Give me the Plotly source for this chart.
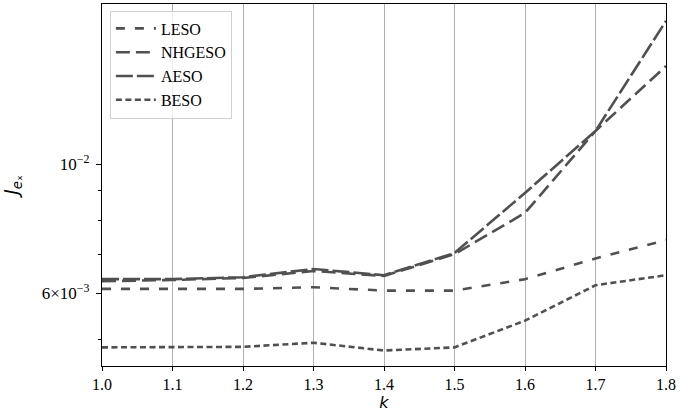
import math
import plotly.graph_objects as go

k = [1.0, 1.1, 1.2, 1.3, 1.4, 1.5, 1.6, 1.7, 1.8]
leso = [0.00610, 0.00610, 0.00610, 0.00614, 0.00606, 0.00606, 0.00634, 0.00688, 0.00740]
nhgeso = [0.00629, 0.00632, 0.00637, 0.00655, 0.00642, 0.00700, 0.00824, 0.01140, 0.01474]
aeso = [0.00634, 0.00634, 0.00639, 0.00660, 0.00644, 0.00703, 0.00892, 0.01140, 0.01762]
beso = [0.00484, 0.00484, 0.00485, 0.00493, 0.00478, 0.00484, 0.00538, 0.00619, 0.00644]

names = ["LESO", "NHGESO", "AESO", "BESO"]
series = [leso, nhgeso, aeso, beso]
dashes = ["9px,10px", "14px,6px", "17px,4px", "6px,3.5px"]

y_major = [0.006, 0.01]
y_major_text = ["6×10<sup>−3</sup>", "10<sup>−2</sup>"]
y_minor = [0.005, 0.007, 0.008, 0.009]
y_grid = [0.01]
x_range = [1.0, 1.8]
y_range = [0.004496, 0.01884]

LINE = "#505050"
SERIF = "Liberation Serif"

fig = go.Figure()
for n, s, d in zip(names, series, dashes):
    fig.add_trace(go.Scatter(x=k, y=s, name=n, mode="lines",
                             line=dict(color=LINE, width=2.6, dash=d)))

for g in y_grid:
    fig.add_shape(type="line", xref="paper", x0=0, x1=1, yref="y",
                  y0=math.log10(g), y1=math.log10(g),
                  line=dict(color="#b0b0b0", width=1.3), layer="below")

fig.update_layout(
    width=700, height=420,
    margin=dict(l=102, r=34, t=4, b=54, autoexpand=False),
    paper_bgcolor="white", plot_bgcolor="white",
    font=dict(family=SERIF, size=16, color="black"),
    showlegend=True,
    legend=dict(x=0.014, y=0.982, xanchor="left", yanchor="top", itemwidth=40,
                bgcolor="rgba(255,255,255,0.8)", bordercolor="#d0d0d0", borderwidth=1,
                font=dict(family=SERIF, size=16)),
)
fig.update_xaxes(range=x_range, dtick=0.1, tick0=1.0, tickformat=".1f", automargin=False,
                 showgrid=True, gridcolor="#b0b0b0", gridwidth=1.3,
                 showline=True, linecolor="black", linewidth=1.2, mirror=True,
                 ticks="outside", ticklen=4, tickcolor="black", zeroline=False,
                 title=dict(text="<i>k</i>", font=dict(family="DejaVu Sans", size=16), standoff=4))
fig.update_yaxes(type="log", range=[math.log10(v) for v in y_range], automargin=False,
                 tickvals=y_major, ticktext=y_major_text, showgrid=False,
                 tickfont=dict(size=17), ticklabelstandoff=3,
                 showline=True, linecolor="black", linewidth=1.2, mirror=True,
                 ticks="outside", ticklen=5, tickcolor="black", zeroline=False,
                 minor=dict(tickvals=y_minor, ticks="outside", ticklen=3, tickcolor="black", showgrid=False),
                 title=dict(text="<i>J</i><sub><i>e</i>ₓ</sub>", font=dict(family="DejaVu Sans", size=19), standoff=18))

fig.write_html("out.html", config={"displayModeBar": False},
               post_script="document.body.style.margin='0';")
